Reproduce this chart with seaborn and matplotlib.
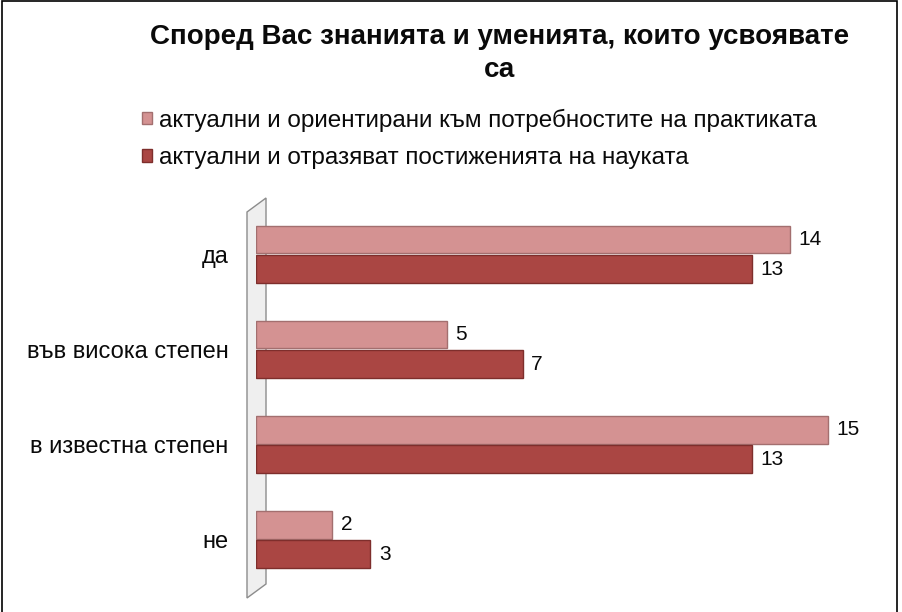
import matplotlib.pyplot as plt
import matplotlib.patches as mpatches
import seaborn as sns
import pandas as pd

categories = ['да', 'във висока степен', 'в известна степен', 'не']
series_names = ['актуални и ориентирани към потребностите на практиката',
                'актуални и отразяват постиженията на науката']
practice_vals = [14, 5, 15, 2]
science_vals = [13, 7, 13, 3]
colors = ['#D49292', '#AA4643']
edge_colors = ['#A36F6F', '#7E2E2C']

df = pd.DataFrame({
    'Отговор': categories * 2,
    'Брой': practice_vals + science_vals,
    'Серия': [series_names[0]] * 4 + [series_names[1]] * 4,
})

sns.set_style('white')
plt.rcParams['font.family'] = ['Liberation Sans', 'DejaVu Sans']

fig = plt.figure(figsize=(9.02, 6.12), dpi=100)
ax = fig.add_axes([0.284, 0.041, 0.676, 0.621])
ax.patch.set_alpha(0)

sns.barplot(data=df, y='Отговор', x='Брой', hue='Серия', order=categories,
            hue_order=series_names, palette=colors, saturation=1, orient='h',
            width=0.62, gap=0.06, ax=ax, legend=False)

for container, ec in zip(ax.containers, edge_colors):
    for p in container:
        p.set_edgecolor(ec)
        p.set_linewidth(1.0)
    ax.bar_label(container, padding=6, fontsize=15, color='#0a0a0a')

ax.set_xlim(0, 16)
ax.set_xlabel('')
ax.set_ylabel('')
ax.set_xticks([])
ax.tick_params(axis='y', length=0, pad=20, labelsize=17, labelcolor='#0a0a0a')
for s in ax.spines.values():
    s.set_visible(False)

# 3D-like wall behind the bars at the left of the plot area
wall = mpatches.Polygon([(247 / 902, 1 - 598 / 612), (247 / 902, 1 - 212 / 612),
                         (266 / 902, 1 - 198 / 612), (266 / 902, 1 - 584 / 612)],
                        closed=True, transform=fig.transFigure,
                        facecolor='#EFEFEF', edgecolor='#8C8C8C', linewidth=1.0,
                        zorder=-1)
fig.patches.append(wall)

# Legend
handles = [mpatches.Patch(facecolor=c, edgecolor=e) for c, e in zip(colors, edge_colors)]
fig.legend(handles, series_names, loc='upper left', bbox_to_anchor=(0.147, 0.838),
           frameon=False, fontsize=17.5, handlelength=0.4, handleheight=0.4,
           handletextpad=0.3, labelspacing=0.62, borderaxespad=0,
           labelcolor='#0a0a0a')

fig.text(0.554, 0.912, 'Според Вас знанията и уменията, които усвоявате\nса',
         ha='center', va='center', fontsize=20, fontweight='bold',
         linespacing=1.35, color='#0a0a0a')

# outer frame
fig.patches.append(mpatches.Rectangle((0.002, -0.01), 0.992, 1.008,
                                      transform=fig.transFigure, fill=False,
                                      edgecolor='black', linewidth=1.2))

fig.savefig('out.png', dpi=100)
